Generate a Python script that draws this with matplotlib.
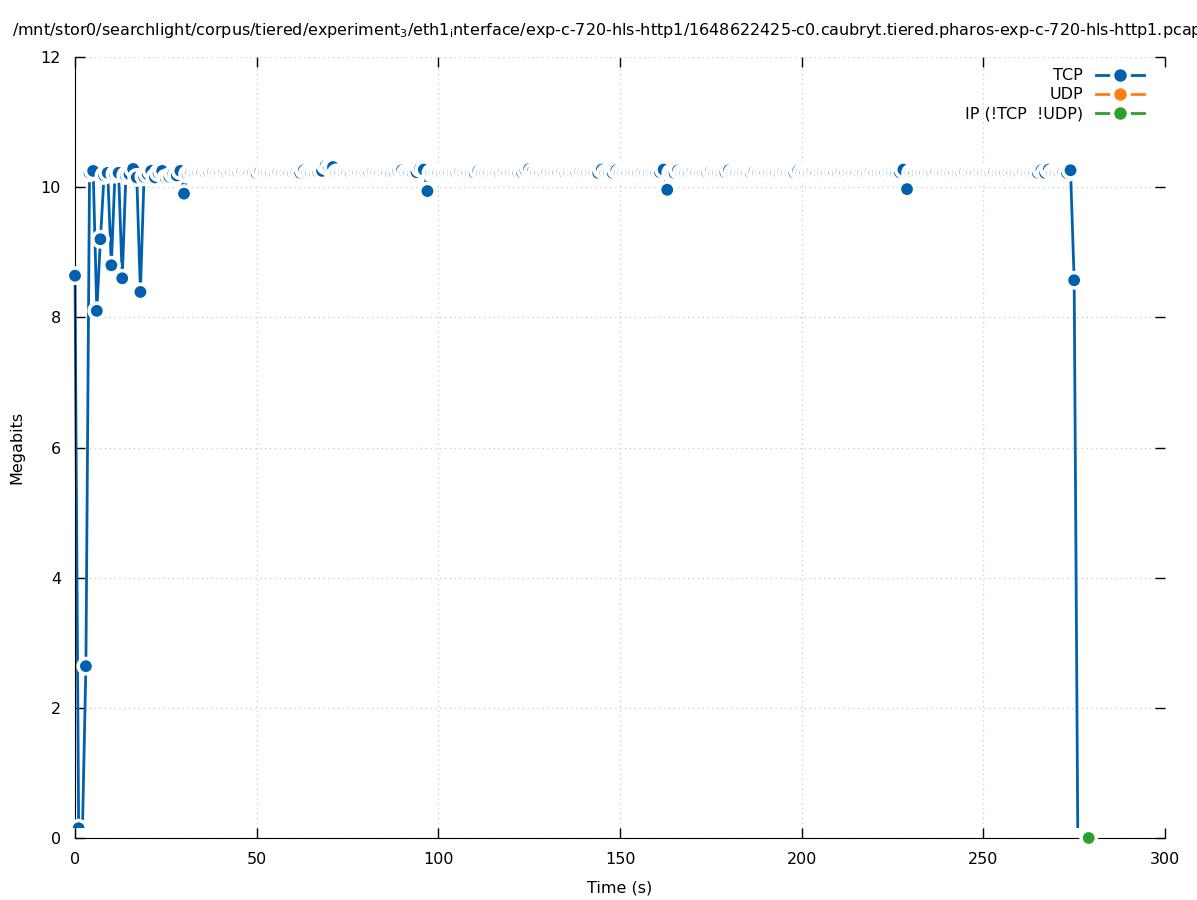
import matplotlib
matplotlib.use('Agg')
import matplotlib.pyplot as plt
import numpy as np
from matplotlib.lines import Line2D
from matplotlib.transforms import Bbox, TransformedBbox

plt.rcParams['font.family'] = ['DejaVu Sans']
plt.rcParams['mathtext.fontset'] = 'dejavusans'

# per-second throughput samples (Mbit)
tcp_mbits = [
    8.64, 0.15, 0.00, 2.64, 10.22, 10.25, 8.10, 9.20, 10.18, 10.22,
    8.80, 10.20, 10.22, 8.60, 10.18, 10.20, 10.28, 10.15, 8.39, 10.16,
    10.20, 10.25, 10.15, 10.22, 10.25, 10.14, 10.16, 10.20, 10.18, 10.25,
    9.90, 10.20, 10.22, 10.21, 10.22, 10.22, 10.21, 10.22, 10.23, 10.22,
    10.22, 10.22, 10.21, 10.22, 10.22, 10.22, 10.23, 10.22, 10.22, 10.22,
    10.21, 10.24, 10.22, 10.22, 10.22, 10.22, 10.23, 10.22, 10.22, 10.22,
    10.22, 10.23, 10.22, 10.26, 10.22, 10.22, 10.22, 10.23, 10.25, 10.33,
    10.30, 10.31, 10.22, 10.22, 10.22, 10.22, 10.21, 10.22, 10.22, 10.22,
    10.22, 10.22, 10.23, 10.22, 10.22, 10.22, 10.22, 10.22, 10.23, 10.25,
    10.26, 10.22, 10.22, 10.22, 10.23, 10.29, 10.27, 9.94, 10.22, 10.22,
    10.22, 10.21, 10.22, 10.22, 10.22, 10.22, 10.23, 10.22, 10.22, 10.22,
    10.22, 10.25, 10.22, 10.22, 10.22, 10.22, 10.22, 10.22, 10.23, 10.22,
    10.22, 10.22, 10.22, 10.23, 10.26, 10.28, 10.24, 10.22, 10.22, 10.22,
    10.23, 10.22, 10.22, 10.22, 10.22, 10.21, 10.22, 10.22, 10.22, 10.23,
    10.22, 10.22, 10.22, 10.22, 10.22, 10.27, 10.22, 10.22, 10.22, 10.26,
    10.22, 10.22, 10.22, 10.22, 10.22, 10.22, 10.23, 10.22, 10.22, 10.22,
    10.22, 10.23, 10.27, 9.96, 10.22, 10.22, 10.26, 10.22, 10.22, 10.22,
    10.23, 10.22, 10.22, 10.22, 10.22, 10.24, 10.22, 10.22, 10.22, 10.23,
    10.26, 10.22, 10.22, 10.22, 10.22, 10.22, 10.22, 10.24, 10.22, 10.22,
    10.22, 10.22, 10.22, 10.22, 10.22, 10.23, 10.22, 10.22, 10.22, 10.25,
    10.22, 10.22, 10.22, 10.23, 10.22, 10.22, 10.22, 10.22, 10.22, 10.22,
    10.22, 10.23, 10.22, 10.22, 10.22, 10.22, 10.22, 10.22, 10.22, 10.23,
    10.22, 10.22, 10.22, 10.22, 10.22, 10.22, 10.22, 10.23, 10.27, 9.97,
    10.22, 10.22, 10.22, 10.22, 10.22, 10.22, 10.22, 10.23, 10.22, 10.22,
    10.22, 10.22, 10.22, 10.22, 10.22, 10.23, 10.22, 10.22, 10.22, 10.22,
    10.22, 10.22, 10.22, 10.23, 10.22, 10.22, 10.22, 10.22, 10.22, 10.22,
    10.22, 10.23, 10.22, 10.22, 10.22, 10.22, 10.26, 10.22, 10.27, 10.22,
    10.22, 10.22, 10.23, 10.22, 10.26, 8.57, 0.00,
]
tcp_time = list(range(len(tcp_mbits)))

udp_time = []
udp_mbits = []

ip_time = [279]
ip_mbits = [0.0]

title = ('/mnt/stor0/searchlight/corpus/tiered/experiment$_{\\mathregular{3}}$'
         '/eth1$_{\\mathregular{i}}$nterface/exp-c-720-hls-http1/'
         '1648622425-c0.caubryt.tiered.pharos-exp-c-720-hls-http1.pcap')

c_tcp = '#0060ad'
c_udp = '#ff7f0e'
c_ip = '#2ca02c'
fs = 11.5

fig = plt.figure(figsize=(11.97, 9), dpi=100)
ax = fig.add_axes([75/1197, 62/900, 1090/1197, 781/900])

# gnuplot-like linespoints: line underneath, then white halo + dot per point
def linespoints(t, v, col, clip=None):
    if len(t) == 0:
        return []
    ln, = ax.plot(t, v, color=col, lw=2, zorder=2)
    xs = np.repeat(t, 2)
    ys = np.repeat(v, 2)
    sizes = np.tile([185, 72], len(t))
    cols = ['white', col] * len(t)
    sc = ax.scatter(xs, ys, s=sizes, c=cols, linewidths=0, zorder=3)
    arts = [ln, sc]
    for a in arts:
        if clip is not None:
            a.set_clip_box(TransformedBbox(clip, ax.transData))
        else:
            a.set_clip_on(False)
    return arts

linespoints(tcp_time, tcp_mbits, c_tcp, clip=Bbox([[-10, 0.15], [310, 13]]))
linespoints(udp_time, udp_mbits, c_udp)
linespoints(ip_time, ip_mbits, c_ip)

ax.set_xlim(0, 300)
ax.set_ylim(0, 12)
ax.set_xticks(np.arange(0, 301, 50))
ax.set_yticks(np.arange(0, 13, 2))
ax.tick_params(direction='in', length=7, width=1, top=True, right=True,
               labelsize=fs, pad=10)
ax.spines['top'].set_visible(False)
ax.spines['right'].set_visible(False)
ax.grid(True, color='#d0d0d0', linestyle=(0, (1, 2.5)), linewidth=1)
ax.set_axisbelow(True)

ax.set_xlabel('Time (s)', fontsize=fs, labelpad=10)
ax.set_ylabel('Megabits', fontsize=fs, labelpad=12)
fig.text(12/1197, 1 - 30/900, title, fontsize=fs, ha='left', va='center')

handles = [
    Line2D([], [], color=c, lw=2, marker='o', markersize=12,
           markeredgecolor='white', markeredgewidth=3)
    for c in (c_tcp, c_udp, c_ip)
]
ax.legend(handles, ['TCP', 'UDP', 'IP (!TCP  !UDP)'], loc='upper right',
          bbox_to_anchor=(1155/1197, 1 - 57/900), bbox_transform=fig.transFigure,
          frameon=False, markerfirst=False, fontsize=fs, handlelength=3.0,
          labelspacing=0.25, borderaxespad=0.3, handletextpad=0.8)

fig.savefig('out.png', dpi=100)
